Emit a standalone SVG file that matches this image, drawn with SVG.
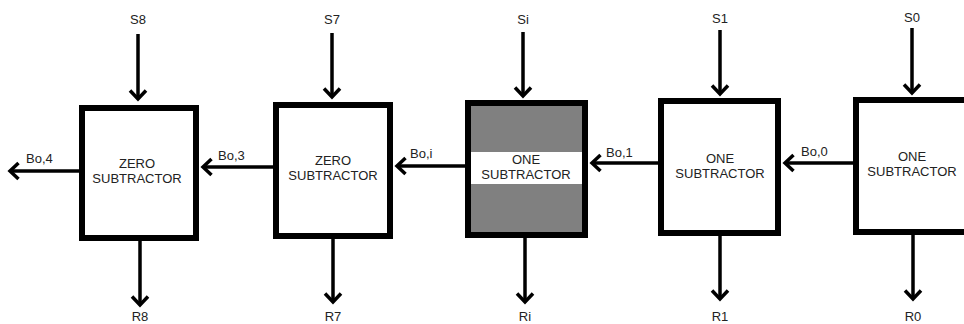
<svg xmlns="http://www.w3.org/2000/svg" width="964" height="324" viewBox="0 0 964 324">
<defs>
<marker id="arr" markerUnits="userSpaceOnUse" markerWidth="24" markerHeight="24" viewBox="-12 -12 24 24" refX="0" refY="0" orient="auto" overflow="visible">
<path d="M-8.5,-8 L0,0 L-8.5,8" fill="none" stroke="#000" stroke-width="3.5" stroke-linejoin="miter"/>
</marker>
<style>
.box{fill:#fff;stroke:#000;stroke-width:6}
.gray{fill:#808080;stroke:#000;stroke-width:6}
.lbl{font-family:"Liberation Sans",Arial,sans-serif;font-size:13px;fill:#222;text-anchor:middle}
.io{font-family:"Liberation Sans",Arial,sans-serif;font-size:13px;fill:#222;text-anchor:middle}
.bo{font-family:"Liberation Sans",Arial,sans-serif;font-size:13px;fill:#222}
.w{stroke:#000;stroke-width:3.5;fill:none;marker-end:url(#arr)}
</style>
</defs>
<rect width="964" height="324" fill="#fff"/>
<g id="connectors">
<line class="w" x1="138" y1="34" x2="138" y2="99"/>
<line class="w" x1="140" y1="241" x2="140" y2="305"/>
<line class="w" x1="332" y1="33" x2="332" y2="97"/>
<line class="w" x1="333" y1="239" x2="333" y2="302"/>
<line class="w" x1="523" y1="32" x2="523" y2="96"/>
<line class="w" x1="525" y1="238" x2="525" y2="302"/>
<line class="w" x1="720" y1="30" x2="720" y2="94"/>
<line class="w" x1="720" y1="236" x2="720" y2="299"/>
<line class="w" x1="912" y1="28" x2="912" y2="93"/>
<line class="w" x1="913" y1="235" x2="913" y2="299"/>
<line class="w" x1="79" y1="171" x2="10" y2="171"/>
<line class="w" x1="273" y1="167" x2="203" y2="167"/>
<line class="w" x1="465" y1="166" x2="397" y2="166"/>
<line class="w" x1="658" y1="163" x2="592" y2="163"/>
<line class="w" x1="853" y1="163" x2="785" y2="163"/>
<text class="bo" x="26" y="163">Bo,4</text>
<text class="bo" x="218" y="160">Bo,3</text>
<text class="bo" x="410" y="158">Bo,i</text>
<text class="bo" x="606" y="157">Bo,1</text>
<text class="bo" x="801" y="156">Bo,0</text>
</g>
<g id="s8"><text class="io" x="138" y="24">S8</text></g>
<g id="s7"><text class="io" x="332" y="24">S7</text></g>
<g id="si"><text class="io" x="523" y="24">Si</text></g>
<g id="s1"><text class="io" x="720" y="23">S1</text></g>
<g id="s0"><text class="io" x="912" y="22">S0</text></g>
<g id="r8"><text class="io" x="140" y="321">R8</text></g>
<g id="r7"><text class="io" x="333" y="321">R7</text></g>
<g id="ri"><text class="io" x="525" y="321">Ri</text></g>
<g id="r1"><text class="io" x="720" y="321">R1</text></g>
<g id="r0"><text class="io" x="913" y="321">R0</text></g>
<g id="box8">
<rect class="box" x="82" y="108" width="114" height="130"/>
<text class="lbl" x="137" y="168">ZERO</text>
<text class="lbl" x="137" y="183">SUBTRACTOR</text>
</g>
<g id="box7">
<rect class="box" x="276" y="105" width="114" height="131"/>
<text class="lbl" x="333" y="165">ZERO</text>
<text class="lbl" x="333" y="180">SUBTRACTOR</text>
</g>
<g id="boxi">
<rect class="gray" x="468" y="103" width="117" height="132"/>
<rect x="471" y="152" width="111" height="32" fill="#fff"/>
<rect x="468" y="103" width="117" height="132" fill="none" stroke="#000" stroke-width="6"/>
<text class="lbl" x="526" y="164">ONE</text>
<text class="lbl" x="526" y="179">SUBTRACTOR</text>
</g>
<g id="box1">
<rect class="box" x="661" y="101" width="117" height="132"/>
<text class="lbl" x="720" y="163">ONE</text>
<text class="lbl" x="720" y="178">SUBTRACTOR</text>
</g>
<g id="box0">
<rect class="box" x="856" y="100" width="120" height="132"/>
<text class="lbl" x="912" y="161">ONE</text>
<text class="lbl" x="912" y="176">SUBTRACTOR</text>
</g>
</svg>
